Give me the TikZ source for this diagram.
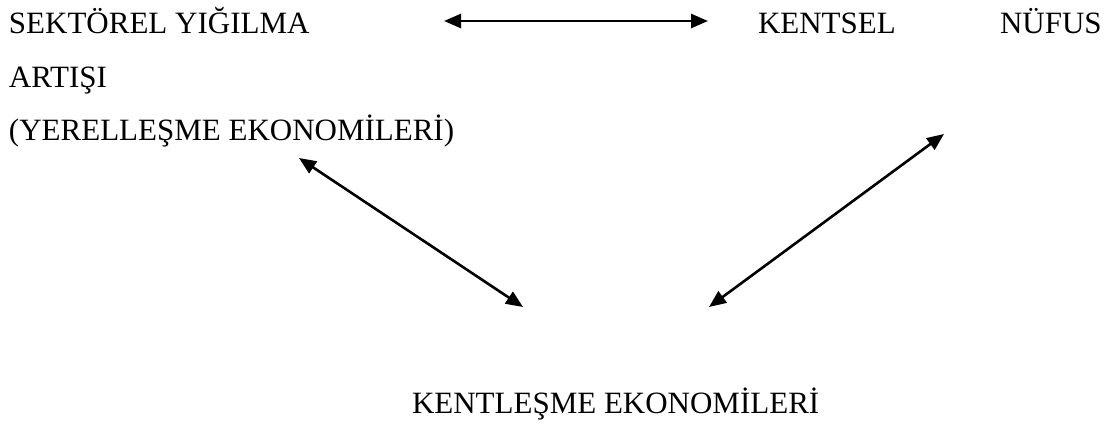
\documentclass[tikz,border=0pt]{standalone}
\usepackage{fontspec}
\setmainfont{Liberation Serif}
\usetikzlibrary{arrows.meta}
\begin{document}
\begin{tikzpicture}[x=1pt,y=-1pt,
  lbl/.style={inner sep=0pt,outer sep=0pt,anchor=base west,font=\fontsize{31}{36}\selectfont},
  link/.style={line width=2.6pt,{Triangle[length=17pt,width=14pt]}-{Triangle[length=17pt,width=14pt]}}]
\useasboundingbox (0,0) rectangle (1114,430);
\node[lbl] (sek) at (9,34) {SEKTÖREL YIĞILMA};
\node[lbl] (ken) at (758,34) {KENTSEL};
\node[lbl] (nuf) at (1000,34) {NÜFUS};
\node[lbl] (art) at (9,88) {ARTIŞI};
\node[lbl] (yer) at (9,141) {(YERELLEŞME EKONOMİLERİ)};
\node[lbl] (kle) at (412,413) {KENTLEŞME EKONOMİLERİ};
\coordinate (h1) at (444,21);
\coordinate (h2) at (708,21);
\coordinate (l1) at (299,158);
\coordinate (l2) at (523,307);
\coordinate (r1) at (944,134);
\coordinate (r2) at (709,307);
\draw[link] (h1) -- (h2);
\draw[link] (l1) -- (l2);
\draw[link] (r1) -- (r2);
\end{tikzpicture}
\end{document}
